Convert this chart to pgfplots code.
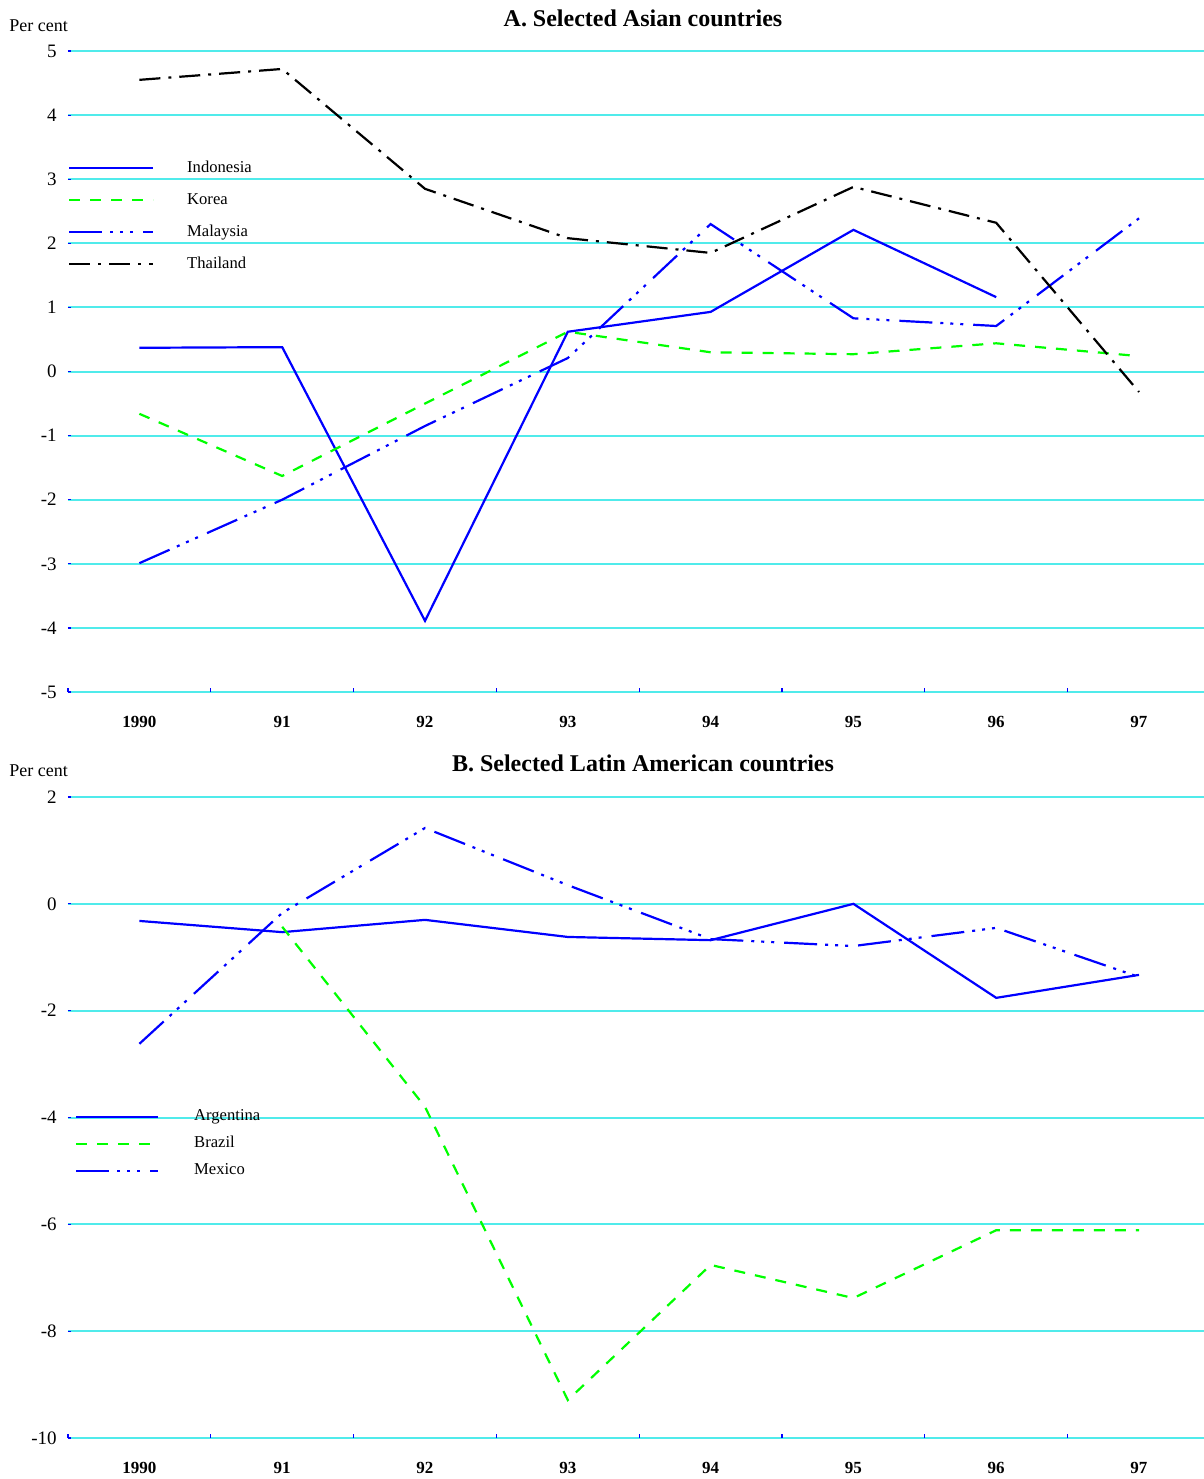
\documentclass[border=0pt]{standalone}
\usepackage{fontspec}
\setmainfont{Liberation Serif}
\usepackage{pgfplots}
\pgfplotsset{compat=1.18}

\definecolor{gridcyan}{RGB}{80,235,235}
\definecolor{lineblue}{RGB}{0,0,255}
\definecolor{linegreen}{RGB}{0,255,0}

\tikzset{
  indo/.style={lineblue, line width=1.1pt},
  korea/.style={linegreen, line width=1.1pt, dash pattern=on 5.5pt off 5pt},
  malay/.style={lineblue, line width=1.1pt, dash pattern=on 16.5pt off 4pt on 1.5pt off 3.5pt on 1.5pt off 3.5pt on 1.5pt off 5pt},
  thai/.style={black, line width=1.1pt, dash pattern=on 10.5pt off 4pt on 1.5pt off 4pt},
}

\pgfplotsset{
  panel/.style={
    scale only axis, width=568pt, height=320.5pt,
    xmin=1989.5, xmax=1997.455,
    xtick={1990,...,1997},
    xticklabels={1990,91,92,93,94,95,96,97},
    minor xtick={1989.5,1990.5,...,1996.5},
    xtick pos=bottom, ytick pos=left,
    axis line style={draw=none},
    ymajorgrids, major grid style={draw=gridcyan, line width=1pt},
    major x tick style={draw=none},
    minor x tick style={lineblue, line width=0.6pt},
    major y tick style={lineblue, line width=0.6pt},
    minor tick length=2pt, major tick length=1.5pt,
    tick align=inside,
    xticklabel style={font=\fontsize{8.5}{10}\selectfont\bfseries, anchor=north, inner sep=0pt, yshift=-12pt},
    yticklabel style={font=\fontsize{9.5}{11}\selectfont, anchor=east, inner sep=0pt, xshift=-5.5pt},
    /pgf/number format/assume math mode=true,
    legend cell align=left,
    clip=false,
  }
}

\pgfplotstableread{
x    y
1990 0.37
1991 0.38
1992 -3.89
1993 0.62
1994 0.93
1995 2.21
1996 1.16
}\indonesia
\pgfplotstableread{
x    y
1990 -0.66
1991 -1.63
1992 -0.50
1993 0.62
1994 0.30
1995 0.27
1996 0.44
1997 0.24
}\korea
\pgfplotstableread{
x    y
1990 -2.99
1991 -2.00
1992 -0.85
1993 0.21
1994 2.30
1995 0.83
1996 0.71
1997 2.39
}\malaysia
\pgfplotstableread{
x    y
1990 4.55
1991 4.72
1992 2.85
1993 2.08
1994 1.85
1995 2.88
1996 2.32
1997 -0.32
}\thailand
\pgfplotstableread{
x    y
1990 -0.32
1991 -0.53
1992 -0.30
1993 -0.62
1994 -0.68
1995 0.00
1996 -1.76
1997 -1.33
}\argentina
\pgfplotstableread{
x    y
1991 -0.43
1992 -3.80
1993 -9.29
1994 -6.76
1995 -7.38
1996 -6.11
1997 -6.11
}\brazil
\pgfplotstableread{
x    y
1990 -2.62
1991 -0.17
1992 1.42
1993 0.35
1994 -0.66
1995 -0.79
1996 -0.45
1997 -1.37
}\mexico

\begin{document}
\begin{tikzpicture}
% Panel A
\begin{axis}[panel,
    at={(0pt,0pt)}, anchor=south west,
    ymin=-5, ymax=5, ytick={-5,...,5},
    legend image code/.code={\draw[#1] (0pt,0pt) -- (42pt,0pt);},
    legend style={at={(0,0.8298)}, anchor=north west, draw=none, fill=none,
      inner sep=0pt, outer sep=0pt, column sep=16.5pt, row sep=8pt,
      font=\fontsize{8.3}{10}\selectfont,
      nodes={inner sep=0pt, text height=6pt, text depth=2pt}},
  ]
  \addplot[indo] table {\indonesia};
  \addplot[korea] table {\korea};
  \addplot[malay] table {\malaysia};
  \addplot[thai] table {\thailand};
  \legend{Indonesia,Korea,Malaysia,Thailand}
  \node[anchor=west, inner sep=0pt, font=\fontsize{9}{10}\selectfont] at (rel axis cs:0,1) [xshift=-29.5pt, yshift=12.5pt] {Per cent};
  \node[inner sep=0pt, font=\fontsize{12}{14}\selectfont\bfseries] at (rel axis cs:0.5,1) [xshift=3.5pt, yshift=16.5pt] {A. Selected Asian countries};
\end{axis}
% Panel B
\begin{axis}[panel,
    at={(0pt,-373pt)}, anchor=south west,
    ymin=-10, ymax=2, ytick={-10,-8,...,2},
    legend image code/.code={\draw[#1] (0pt,0pt) -- (41pt,0pt);},
    legend style={at={(0.00616,0.5133)}, anchor=north west, draw=none, fill=none,
      inner sep=0pt, outer sep=0pt, column sep=17.5pt, row sep=5.5pt,
      font=\fontsize{8.3}{10}\selectfont,
      nodes={inner sep=0pt, text height=6pt, text depth=2pt}},
  ]
  \addplot[indo] table {\argentina};
  \addplot[korea] table {\brazil};
  \addplot[malay] table {\mexico};
  \legend{Argentina,Brazil,Mexico}
  \node[anchor=west, inner sep=0pt, font=\fontsize{9}{10}\selectfont] at (rel axis cs:0,1) [xshift=-29.5pt, yshift=13pt] {Per cent};
  \node[inner sep=0pt, font=\fontsize{12}{14}\selectfont\bfseries] at (rel axis cs:0.5,1) [xshift=3.5pt, yshift=17pt] {B. Selected Latin American countries};
\end{axis}
\pgfresetboundingbox
\path[use as bounding box] (-34pt,-393.5pt) rectangle (568pt,346pt);
\end{tikzpicture}
\end{document}
